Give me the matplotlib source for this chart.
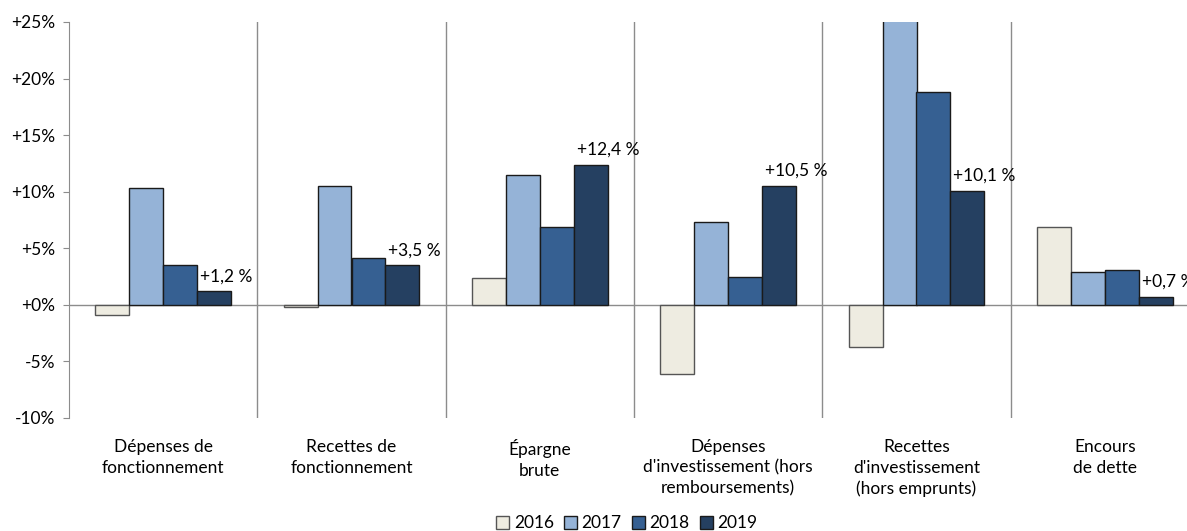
import matplotlib.pyplot as plt
import numpy as np

categories = ["Dépenses de\nfonctionnement", "Recettes de\nfonctionnement", "Épargne\nbrute",
              "Dépenses\nd'investissement (hors\nremboursements)",
              "Recettes\nd'investissement\n(hors emprunts)", "Encours\nde dette"]
years = ["2016", "2017", "2018", "2019"]
v2016 = [-0.9, -0.2, 2.4, -6.1, -3.7, 6.9]
v2017 = [10.3, 10.5, 11.5, 7.3, 31.0, 2.9]
v2018 = [3.5, 4.1, 6.9, 2.5, 18.8, 3.05]
v2019 = [1.2, 3.5, 12.4, 10.5, 10.1, 0.7]
labels2019 = ["+1,2 %", "+3,5 %", "+12,4 %", "+10,5 %", "+10,1 %", "+0,7 %"]
colors = ["#EEECE1", "#95B3D7", "#366092", "#254061"]

plt.rcParams['font.family'] = ['Lato', 'DejaVu Sans']

fig = plt.figure(figsize=(11.87, 5.31), dpi=100)
ax = fig.add_axes([69 / 1187, 113 / 531, 1130 / 1187, 396 / 531])

x = np.arange(len(categories)) + 0.5
w = 0.18
series = [v2016, v2017, v2018, v2019]
for i, vals in enumerate(series):
    edge = "#555555" if i == 0 else "#1a1a1a"
    ax.bar(x + (i - 1.5) * w, vals, w, color=colors[i], edgecolor=edge,
           linewidth=1.0, label=years[i], zorder=3)

# data labels for 2019, just right of the bar's left edge
for xi, v, lab in zip(x, v2019, labels2019):
    ax.annotate(lab, (xi + w, v), xytext=(2, 5), textcoords="offset points",
                ha="left", va="bottom", fontsize=12.5, color="black", zorder=4)

ax.axhline(0, color="#8c8c8c", linewidth=1.0, zorder=2)
for b in range(1, len(categories)):
    ax.axvline(b, color="#8c8c8c", linewidth=1.0, zorder=1)

ax.set_xlim(0, len(categories))
ax.set_ylim(-10, 25)
ax.set_yticks(range(-10, 26, 5))
ax.set_yticklabels(["%+d%%" % t for t in range(-10, 26, 5)], fontsize=12.5)
ax.tick_params(axis="y", length=4, color="#8c8c8c", pad=6)
ax.set_xticks([])
for xi, c in zip(x, categories):
    ax.text(xi, -11.9, c, ha="center", va="top", fontsize=12.5, linespacing=1.32)

for s in ["top", "right", "bottom"]:
    ax.spines[s].set_visible(False)
ax.spines["left"].set_color("#8c8c8c")

fig.legend(loc="lower center", bbox_to_anchor=(627 / 1187, -0.03), ncol=4, frameon=False,
           fontsize=12.5, handlelength=0.75, handleheight=0.75, handletextpad=0.25,
           columnspacing=0.6)

fig.savefig("out.png", dpi=100)
